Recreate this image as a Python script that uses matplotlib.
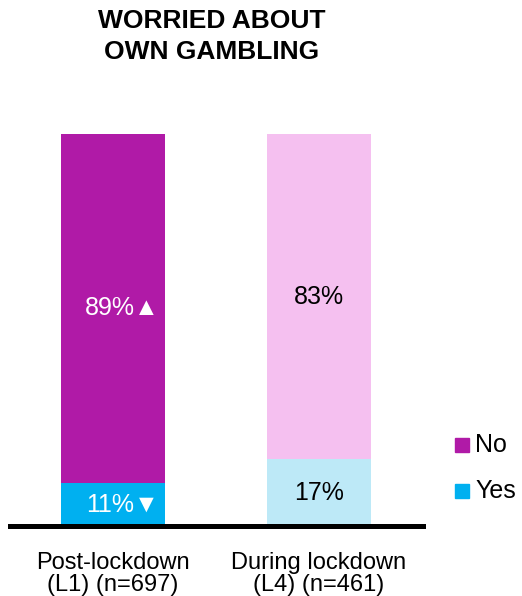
import matplotlib
matplotlib.use("Agg")
import matplotlib.pyplot as plt
from matplotlib.patches import Rectangle

plt.rcParams['font.family'] = ['Liberation Sans', 'DejaVu Sans']

categories = ["Post-lockdown\n(L1) (n=697)", "During lockdown\n(L4) (n=461)"]
series = ["No", "Yes"]
no_vals = [89, 83]
yes_vals = [11, 17]
no_marks = ["▲", ""]
yes_marks = ["▼", ""]
title = "WORRIED ABOUT\nOWN GAMBLING"

no_colors = ["#B01AA7", "#F5C0F0"]
yes_colors = ["#00B0F0", "#BDE9F7"]
no_text_colors = ["white", "black"]
yes_text_colors = ["white", "black"]

W, H = 522, 596
fig = plt.figure(figsize=(W / 100, H / 100), dpi=100)
ax = fig.add_axes([10 / W, 70 / H, 413 / W, 392 / H])

x = list(range(len(categories)))
width = 0.505
ax.bar(x, yes_vals, width=width, color=yes_colors, zorder=2)
ax.bar(x, no_vals, width=width, bottom=yes_vals, color=no_colors, zorder=2)

for i in x:
    off = 0.046 if no_marks[i] else 0
    ax.text(i + off, yes_vals[i] + no_vals[i] / 2, f"{no_vals[i]}%{no_marks[i]}",
            ha='center', va='center', fontsize=18, color=no_text_colors[i])
    off = 0.046 if yes_marks[i] else 0
    ax.text(i + off, yes_vals[i] / 2, f"{yes_vals[i]}%{yes_marks[i]}",
            ha='center', va='center', fontsize=18, color=yes_text_colors[i])

ax.set_xlim(-0.5, 1.505)
ax.set_ylim(0, 100)
for s in ['top', 'right', 'left']:
    ax.spines[s].set_visible(False)
ax.spines['bottom'].set_linewidth(3.6)
ax.spines['bottom'].set_zorder(3)
ax.set_yticks([])
ax.set_xticks(x)
ax.set_xticklabels(categories, fontsize=17, linespacing=1.0)
ax.tick_params(axis='x', length=0, pad=19)

# legend (manual placement)
leg_colors = [no_colors[0], yes_colors[0]]
leg_baselines = [452, 498]
for lab, col, base in zip(series, leg_colors, leg_baselines):
    fig.add_artist(Rectangle((455 / W, 1 - base / H), 14 / W, 14 / H,
                             transform=fig.transFigure, color=col))
    fig.text(475 / W, 1 - base / H, lab, ha='left', va='baseline', fontsize=18)

fig.text(212 / W, 1 - 9 / H, title, ha='center', va='top', fontsize=19,
         fontweight='bold', linespacing=1.35)

fig.savefig("out.png", dpi=100)
